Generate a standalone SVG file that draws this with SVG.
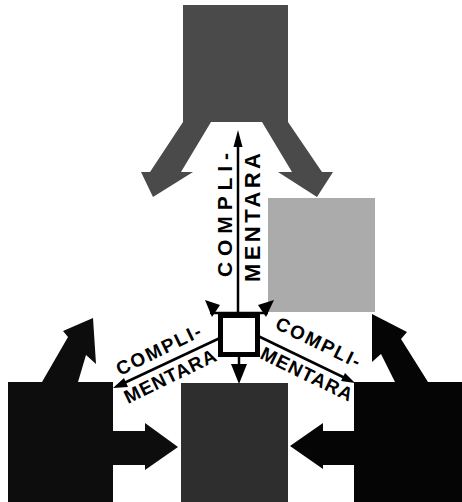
<svg xmlns="http://www.w3.org/2000/svg" width="462" height="502" viewBox="0 0 462 502">
<style>
  .lbl { font-family: "Liberation Sans", Arial, sans-serif; font-weight: bold; fill: #000; }
  .ln { stroke: #000; stroke-width: 2.5; fill: none; }
  .hd { fill: #000; }
</style>
<rect x="0" y="0" width="462" height="502" fill="#fff"/>
<g id="top-block">
  <polygon fill="#4a4a4a" points="183,5 288,5 288,122 322,172 333,172 317,197 278,172 292,172 262,122 211,122 181,172 193,172 153,197 141,172 150,172 183,122"/>
</g>
<g id="light-square">
  <rect x="268" y="198" width="107" height="114" fill="#ababab"/>
</g>
<g id="left-square">
  <rect x="8" y="382" width="105" height="120" fill="#0d0d0d"/>
  <polygon fill="#0d0d0d" points="42,382 68,337 63,331 93,318 96,364 86,355 78,382"/>
  <polygon fill="#0d0d0d" points="112,431 145,431 145,423 178,447 145,470 145,465 112,465"/>
</g>
<g id="center-square">
  <rect x="181" y="383" width="107" height="119" fill="#2e2e2e"/>
</g>
<g id="right-square">
  <rect x="354" y="382" width="108" height="120" fill="#050505"/>
  <polygon fill="#050505" points="428,382 401,339 407,332 372,314 372,362 381,354 395,382"/>
  <polygon fill="#050505" points="355,431 323,431 323,423 290,446 323,469 323,465 355,465"/>
</g>
<g id="connectors">
  <line class="ln" x1="238" y1="315" x2="238" y2="140"/>
  <polygon class="hd" points="238,130 233.5,147 242.5,147"/>
  <line class="ln" x1="239" y1="356" x2="239" y2="370"/>
  <polygon class="hd" points="239,384 231,364 247,364"/>
  <line class="ln" x1="210" y1="313" x2="268" y2="313"/>
  <polygon class="hd" points="205,300 220,305 212,317"/>
  <polygon class="hd" points="258,305 274,300 266,317"/>
  <line class="ln" x1="220" y1="338" x2="122" y2="384"/>
  <polygon class="hd" points="113,388 124,378 128,387"/>
  <line class="ln" x1="258" y1="336" x2="345" y2="378"/>
  <polygon class="hd" points="355,383 341,381 345,373"/>
</g>
<g id="center-node">
  <rect x="220.5" y="315.5" width="37" height="39" fill="#fff" stroke="#000" stroke-width="5"/>
</g>
<g id="labels">
  <text class="lbl" font-size="21" textLength="124" lengthAdjust="spacing" transform="translate(232,277) rotate(-90)">COMPLI-</text>
  <text class="lbl" font-size="22" textLength="129" lengthAdjust="spacing" transform="translate(260,282) rotate(-90)">MENTARA</text>
  <text class="lbl" font-size="19" textLength="92" lengthAdjust="spacing" transform="translate(120,376) rotate(-26)">COMPLI-</text>
  <text class="lbl" font-size="19" textLength="100" lengthAdjust="spacing" transform="translate(128,404) rotate(-26)">MENTARA</text>
  <text class="lbl" font-size="19" textLength="92" lengthAdjust="spacing" transform="translate(274,328) rotate(26)">COMPLI-</text>
  <text class="lbl" font-size="19" textLength="100" lengthAdjust="spacing" transform="translate(259,358) rotate(26)">MENTARA</text>
</g>
</svg>
